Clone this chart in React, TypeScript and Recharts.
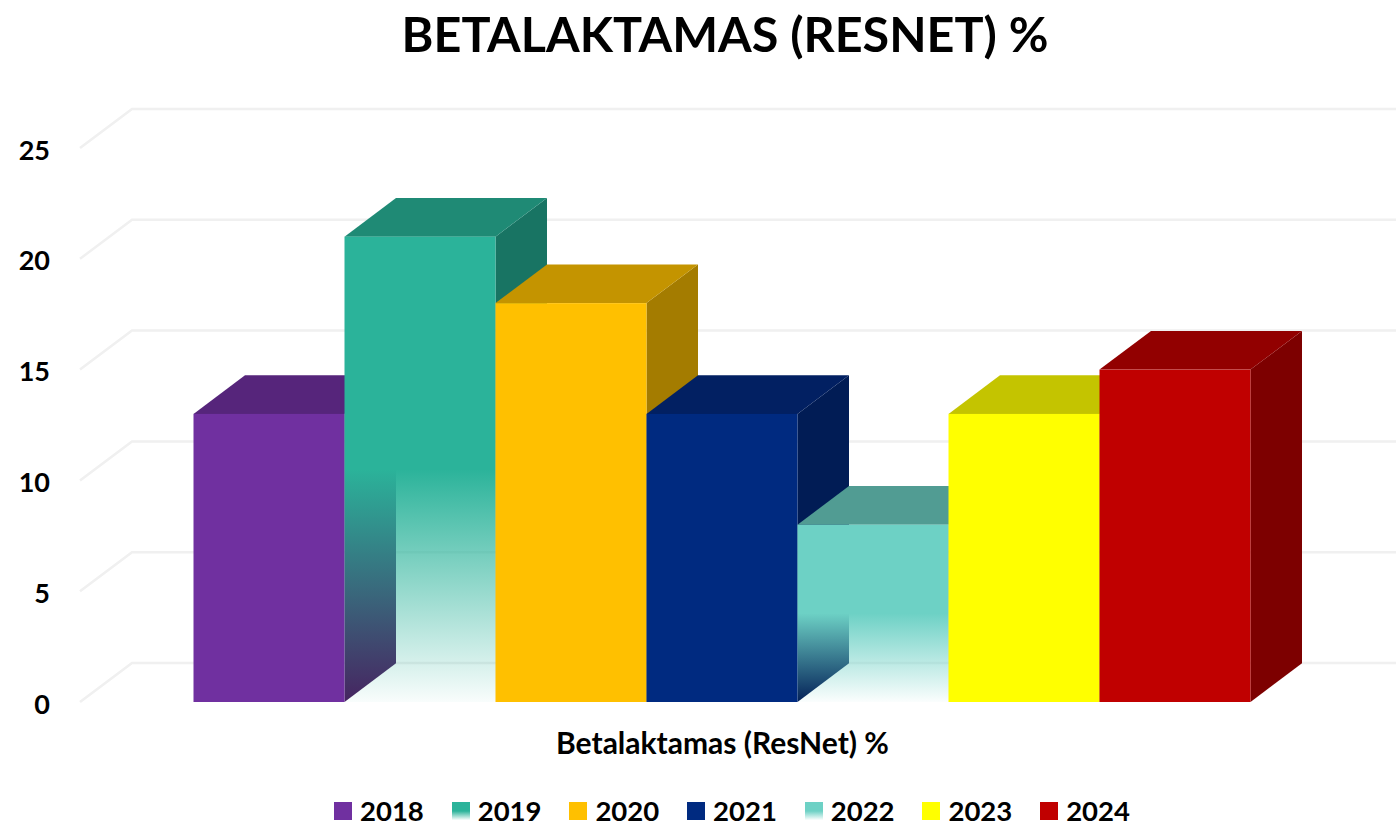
import React from "react";
import { BarChart, Bar, XAxis, YAxis, CartesianGrid, Legend } from "recharts";

const categories = ["Betalaktamas (ResNet) %"];
const years = ["2018", "2019", "2020", "2021", "2022", "2023", "2024"];
const values = [13, 21, 18, 13, 8, 13, 15];
const frontColors = ["#7030A0", "#2BB39A", "#FFC000", "#002A80", "#6DD1C5", "#FFFF00", "#C00000"];
const topColors = ["#56257B", "#1F8A75", "#C49400", "#022062", "#519C93", "#C4C400", "#920000"];
const sideColors = ["#47205F", "#187463", "#A47C00", "#011C55", "#3F7F78", "#A3A300", "#7D0000"];
const fadingYears = ["2019", "2022"];
const yTicks = [0, 5, 10, 15, 20, 25];

const tableRow: Record<string, string | number> = { category: categories[0] };
years.forEach((year, i) => {
  tableRow[year] = values[i];
});
const table = [tableRow];

const FONT = "Lato, Carlito, sans-serif";
const DEPTH_X = 51.5;
const DEPTH_Y = 38.7;

const paint = (year: string, color: string, kind: string) =>
  fadingYears.includes(year) ? `url(#${kind}${year})` : color;

const Box3D = (props: any) => {
  const { x, y, width, height, seriesIndex } = props;
  const year = years[seriesIndex];
  const r = x + width;
  const b = y + height;
  return (
    <g shapeRendering="geometricPrecision">
      <polygon
        points={`${r},${y} ${r + DEPTH_X},${y - DEPTH_Y} ${r + DEPTH_X},${b - DEPTH_Y} ${r},${b}`}
        fill={paint(year, sideColors[seriesIndex], "side")}
      />
      <polygon
        points={`${x},${y} ${x + DEPTH_X},${y - DEPTH_Y} ${r + DEPTH_X},${y - DEPTH_Y} ${r},${y}`}
        fill={topColors[seriesIndex]}
      />
      <rect x={x} y={y} width={width} height={height} fill={paint(year, frontColors[seriesIndex], "front")} />
    </g>
  );
};

const gridLine = (p: any) => (
  <polyline
    key={p.key ?? p.index}
    points={`${p.x1},${p.y1} ${p.x1 + 52},${p.y1 - 39} 1396,${p.y1 - 39}`}
    fill="none"
    stroke="#F0F0F0"
    strokeWidth={2.5}
  />
);

const LegendContent = () => (
  <div style={{ display: "flex", alignItems: "center", height: 24, lineHeight: "24px", fontFamily: FONT, fontWeight: 700, fontSize: 27.5, color: "#000" }}>
    {years.map((year, i) => (
      <div key={year} style={{ display: "flex", alignItems: "center", width: 117.7, height: 24 }}>
        <svg width={18} height={18} style={{ marginRight: 8, flex: "none" }}>
          <rect width={18} height={18} fill={paint(year, frontColors[i], "front")} />
        </svg>
        <div style={{ height: 24, lineHeight: "24px" }}>{year}</div>
      </div>
    ))}
  </div>
);

export default function App() {
  return (
    <div style={{ position: "absolute", left: 0, top: 0, width: 1396, height: 823, background: "#fff", overflow: "hidden" }}>
      <div
        style={{
          position: "absolute",
          left: 0,
          width: 1450,
          top: 3,
          textAlign: "center",
          fontFamily: FONT,
          fontWeight: 700,
          fontSize: 48.5,
          lineHeight: "60px",
          color: "#000",
        }}
      >
        BETALAKTAMAS (RESNET) %
      </div>
      <BarChart
        width={1396}
        height={823}
        data={table}
        margin={{ top: 148, right: 31, bottom: 0, left: 0 }}
        barCategoryGap={113.5}
        barGap={0}
        style={{ overflow: "visible" }}
      >
        <defs>
          {fadingYears.map((year) => {
            const i = years.indexOf(year);
            return (
              <React.Fragment key={year}>
                <linearGradient id={`front${year}`} x1="0" y1="0" x2="0" y2="1">
                  <stop offset="50%" stopColor={frontColors[i]} stopOpacity={1} />
                  <stop offset="100%" stopColor={frontColors[i]} stopOpacity={0.03} />
                </linearGradient>
                <linearGradient id={`side${year}`} x1="0" y1="0" x2="0" y2="1">
                  <stop offset="50%" stopColor={sideColors[i]} stopOpacity={1} />
                  <stop offset="100%" stopColor={sideColors[i]} stopOpacity={0.03} />
                </linearGradient>
              </React.Fragment>
            );
          })}
        </defs>
        <CartesianGrid vertical={false} horizontal={gridLine as any} />
        <XAxis
          dataKey="category"
          height={97}
          axisLine={false}
          tickLine={false}
          tickSize={0}
          tickMargin={31}
          tick={{ fontFamily: FONT, fontWeight: 700, fontSize: 30, fill: "#000" }}
        />
        <YAxis
          width={80}
          domain={[0, 25]}
          ticks={yTicks}
          axisLine={false}
          tickLine={false}
          tickSize={0}
          tickMargin={30}
          tick={{ fontFamily: FONT, fontWeight: 700, fontSize: 27, fill: "#000", dy: 2 }}
        />
        <Legend
          content={<LegendContent />}
          verticalAlign="bottom"
          wrapperStyle={{ left: 334, width: 900, height: 24, bottom: 0 }}
        />
        {years.map((year, i) => (
          <Bar
            key={year}
            dataKey={year}
            isAnimationActive={false}
            fill={frontColors[i]}
            shape={(p: any) => <Box3D {...p} seriesIndex={i} />}
          />
        ))}
      </BarChart>
    </div>
  );
}
